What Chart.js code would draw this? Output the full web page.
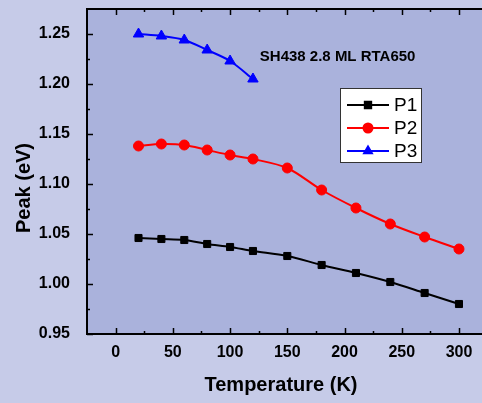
<!DOCTYPE html>
<html>
<head>
<meta charset="utf-8">
<script src="https://cdn.jsdelivr.net/npm/chart.js@4/dist/chart.umd.min.js"></script>
<style>
  html, body { margin: 0; padding: 0; background: #c6cbe8; }
  #wrap { width: 482px; height: 403px; }
</style>
</head>
<body>
<div id="wrap"><canvas id="chart" width="482" height="403"></canvas></div>
<script>
// temperatures (K)
const temps = [20, 40, 60, 80, 100, 120, 150, 180, 210, 240, 270, 300];
const temps3 = [20, 40, 60, 80, 100, 120];
// peak energies (eV)
const p1 = [1.046, 1.045, 1.044, 1.040, 1.037, 1.033, 1.028, 1.019, 1.011, 1.002, 0.991, 0.980];
const p2 = [1.138, 1.140, 1.139, 1.134, 1.129, 1.125, 1.116, 1.094, 1.076, 1.060, 1.047, 1.035];
const p3 = [1.250, 1.248, 1.244, 1.234, 1.223, 1.205];
const xTicks = [0, 50, 100, 150, 200, 250, 300];
const yTicks = [0.95, 1.00, 1.05, 1.10, 1.15, 1.20, 1.25];
const seriesNames = ['P1', 'P2', 'P3'];
const seriesColors = ['#000000', '#ff0000', '#0000ff'];
const seriesShapes = ['rect', 'circle', 'triangle'];
const note = 'SH438 2.8 ML RTA650';

function toXY(xs, ys) {
  return xs.map((x, i) => ({ x: x, y: ys[i] }));
}

const boldFont = '"Liberation Sans", Arial, sans-serif';

// background, inward ticks, frame lines, y title, note and legend
const decor = {
  id: 'decor',
  beforeDraw(chart) {
    const ctx = chart.ctx;
    const a = chart.chartArea;
    ctx.save();
    ctx.fillStyle = '#aab2dc';
    ctx.fillRect(a.left, a.top, chart.width - a.left, a.bottom - a.top);
    ctx.restore();
  },
  afterDraw(chart) {
    const ctx = chart.ctx;
    const a = chart.chartArea;
    const xs = chart.scales.x;
    const ys = chart.scales.y;
    ctx.save();
    ctx.strokeStyle = '#000';
    ctx.lineWidth = 2;
    // top and bottom frame lines run to the canvas edge
    ctx.beginPath();
    ctx.moveTo(a.left - 1, a.top);
    ctx.lineTo(chart.width, a.top);
    ctx.moveTo(a.left - 1, a.bottom);
    ctx.lineTo(chart.width, a.bottom);
    ctx.stroke();
    ctx.lineWidth = 1.5;
    // x ticks (bottom and top, inward)
    for (let v = 0; v <= 300; v += 25) {
      const px = Math.round(xs.getPixelForValue(v)) + 0.5;
      const len = v % 50 === 0 ? 6 : 3;
      ctx.beginPath();
      ctx.moveTo(px, a.bottom);
      ctx.lineTo(px, a.bottom - len);
      ctx.moveTo(px, a.top);
      ctx.lineTo(px, a.top + len);
      ctx.stroke();
    }
    // y ticks (left, inward)
    for (let i = 0; i <= 12; i++) {
      const v = 0.95 + i * 0.025;
      const py = Math.round(ys.getPixelForValue(v)) + 0.5;
      const len = i % 2 === 0 ? 6 : 3;
      ctx.beginPath();
      ctx.moveTo(a.left, py);
      ctx.lineTo(a.left + len, py);
      ctx.stroke();
    }
    // y axis title
    ctx.fillStyle = '#000';
    ctx.font = 'bold 20px ' + boldFont;
    ctx.textAlign = 'center';
    ctx.textBaseline = 'middle';
    ctx.translate(24, 188);
    ctx.rotate(-Math.PI / 2);
    ctx.fillText('Peak (eV)', 0, 0);
    ctx.restore();

    // note text
    ctx.save();
    ctx.fillStyle = '#000';
    ctx.font = 'bold 15px ' + boldFont;
    ctx.textAlign = 'left';
    ctx.textBaseline = 'middle';
    ctx.fillText(note, xs.getPixelForValue(126), ys.getPixelForValue(1.227));
    ctx.restore();

    // legend box
    ctx.save();
    const lx = 340, ly = 88, lw = 81, lh = 74;
    ctx.fillStyle = '#ffffff';
    ctx.fillRect(lx, ly, lw, lh);
    ctx.strokeStyle = '#333';
    ctx.lineWidth = 1;
    ctx.strokeRect(lx + 0.5, ly + 0.5, lw, lh);
    ctx.font = '19px ' + boldFont;
    ctx.textBaseline = 'middle';
    ctx.textAlign = 'left';
    seriesNames.forEach((name, i) => {
      const cy = ly + 17 + i * 23;
      ctx.strokeStyle = seriesColors[i];
      ctx.fillStyle = seriesColors[i];
      ctx.lineWidth = 2;
      ctx.beginPath();
      ctx.moveTo(lx + 7, cy);
      ctx.lineTo(lx + 49, cy);
      ctx.stroke();
      Chart.helpers.drawPoint(ctx, { pointStyle: seriesShapes[i], radius: 4.5, borderWidth: 1 }, lx + 28, cy);
      ctx.fillStyle = '#000';
      ctx.fillText(name, lx + 54, cy + 1);
    });
    ctx.restore();
  }
};

const datasets = [
  { label: 'P1', data: toXY(temps, p1) },
  { label: 'P2', data: toXY(temps, p2) },
  { label: 'P3', data: toXY(temps3, p3) }
].map((d, i) => Object.assign(d, {
  borderColor: seriesColors[i],
  backgroundColor: seriesColors[i],
  pointStyle: seriesShapes[i],
  pointRadius: i === 2 ? 6 : 5,
  pointBorderWidth: 1,
  borderWidth: 2,
  tension: 0.3,
  showLine: true,
  clip: false
}));

new Chart(document.getElementById('chart'), {
  type: 'scatter',
  data: { datasets: datasets },
  plugins: [decor],
  options: {
    responsive: false,
    animation: false,
    layout: { padding: { top: 9, right: 0, left: 0, bottom: 0 } },
    plugins: { legend: { display: false }, tooltip: { enabled: false } },
    scales: {
      x: {
        type: 'linear',
        min: -25,
        max: 314,
        afterBuildTicks(axis) { axis.ticks = xTicks.map(v => ({ value: v })); },
        afterFit(axis) {
          axis.height = 69;
          axis.paddingLeft = 0;
          axis.paddingRight = 0;
        },
        grid: { display: false },
        border: { display: false },
        ticks: {
          color: '#000',
          padding: 1,
          maxRotation: 0,
          font: { family: boldFont, size: 16, weight: 'bold' }
        },
        title: {
          display: true,
          text: 'Temperature (K)',
          color: '#000',
          padding: { top: 2, bottom: 6 },
          font: { family: boldFont, size: 20, weight: 'bold' }
        }
      },
      y: {
        type: 'linear',
        min: 0.95,
        max: 1.275,
        afterBuildTicks(axis) { axis.ticks = yTicks.map(v => ({ value: v })); },
        afterFit(axis) {
          axis.width = 87;
          axis.paddingTop = 0;
          axis.paddingBottom = 0;
        },
        grid: { display: false },
        border: { display: true, color: '#000', width: 2 },
        ticks: {
          color: '#000',
          padding: 9,
          font: { family: boldFont, size: 16, weight: 'bold' },
          callback: v => v.toFixed(2)
        }
      }
    }
  }
});
</script>
</body>
</html>
